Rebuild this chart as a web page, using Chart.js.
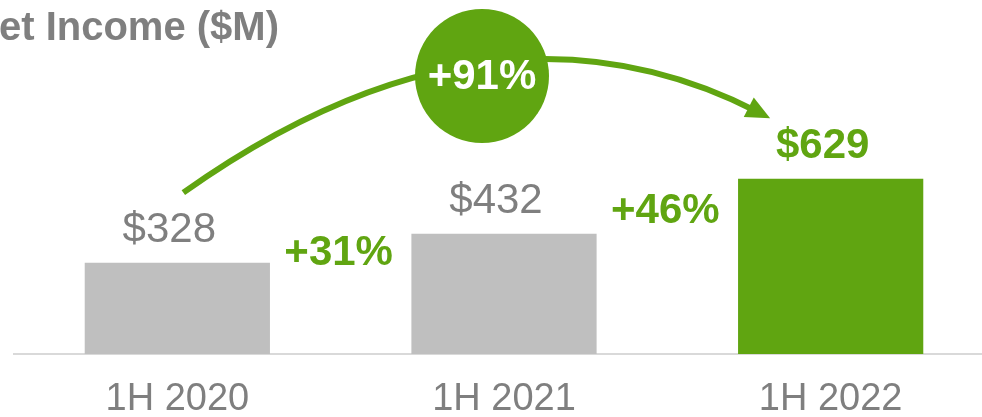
<!DOCTYPE html>
<html>
<head>
<meta charset="utf-8">
<script src="https://cdn.jsdelivr.net/npm/chart.js@4/dist/chart.umd.min.js"></script>
<style>
  html, body { margin: 0; padding: 0; background: #fff; overflow: hidden; }
  #wrap { width: 1000px; height: 438px; position: relative; }
</style>
</head>
<body>
<div id="wrap"><canvas id="incomeChart"></canvas></div>
<script>
const categories = ['1H 2020', '1H 2021', '1H 2022'];
const netIncome = [328, 432, 629];
const stepGrowth = ['+31%', '+46%'];
const totalGrowth = '+91%';
const chartTitle = 'Net Income ($M)';

const GREEN = '#60a511';
const GREY_BAR = '#bfbfbf';
const GREY_TEXT = '#7f7f7f';
const FONT = '"Liberation Sans", Arial, sans-serif';

// labels, arrows and the growth bubble
const annotations = {
    id: 'annotations',
    afterDraw(chart) {
        const ctx = chart.ctx;
        const xs = chart.scales.x, ys = chart.scales.y;
        const px = netIncome.map((v, i) => xs.getPixelForValue(i));
        const py = netIncome.map(v => ys.getPixelForValue(v));
        ctx.save();
        ctx.textAlign = 'center';
        ctx.textBaseline = 'middle';

        // title (runs off the left edge like the slide crop)
        ctx.font = 'bold 40px ' + FONT;
        ctx.fillStyle = GREY_TEXT;
        ctx.textAlign = 'right';
        ctx.fillText(chartTitle, 279, 29);
        ctx.textAlign = 'center';

        // value labels, sitting a little left of the bar centre
        netIncome.forEach((v, i) => {
            const last = i === netIncome.length - 1;
            ctx.font = (last ? 'bold ' : '') + '42px ' + FONT;
            ctx.fillStyle = last ? GREEN : GREY_TEXT;
            ctx.fillText('$' + v, px[i] - 8, py[i] - 32);
        });

        // step growth between bars
        ctx.font = 'bold 42px ' + FONT;
        ctx.fillStyle = GREEN;
        stepGrowth.forEach((t, i) => {
            ctx.fillText(t, (px[i] + px[i + 1]) / 2 - 2, (py[i] + py[i + 1]) / 2 + 5);
        });

        // curved arrow
        const p0 = { x: px[0] + 6, y: py[0] - 70 };
        const p2 = { x: px[2] - 73, y: py[2] - 67 };
        const c = { x: (px[0] + px[2]) / 2 - 14, y: -25 };
        ctx.strokeStyle = GREEN;
        ctx.lineWidth = 6;
        ctx.beginPath();
        ctx.moveTo(p0.x, p0.y);
        ctx.quadraticCurveTo(c.x, c.y, p2.x, p2.y);
        ctx.stroke();
        const ang = Math.atan2(p2.y - c.y, p2.x - c.x);
        const len = 24, half = 11;
        const tip = { x: p2.x + Math.cos(ang) * 14, y: p2.y + Math.sin(ang) * 14 };
        const bx = tip.x - Math.cos(ang) * len, by = tip.y - Math.sin(ang) * len;
        ctx.fillStyle = GREEN;
        ctx.beginPath();
        ctx.moveTo(tip.x, tip.y);
        ctx.lineTo(bx + Math.sin(ang) * half, by - Math.cos(ang) * half);
        ctx.lineTo(bx - Math.sin(ang) * half, by + Math.cos(ang) * half);
        ctx.closePath();
        ctx.fill();

        // bubble
        const cx = (px[0] + px[2]) / 2 - 22, cy = 76;
        ctx.beginPath();
        ctx.arc(cx, cy, 67, 0, Math.PI * 2);
        ctx.fill();
        ctx.fillStyle = '#ffffff';
        ctx.font = 'bold 42px ' + FONT;
        ctx.fillText(totalGrowth, cx, cy + 1);

        ctx.restore();
    }
};

new Chart(document.getElementById('incomeChart').getContext('2d'), {
    type: 'bar',
    data: {
        labels: categories,
        datasets: [{
            label: 'Net Income ($M)',
            data: netIncome,
            backgroundColor: [GREY_BAR, GREY_BAR, GREEN],
            barPercentage: 0.567,
            categoryPercentage: 1
        }]
    },
    options: {
        responsive: true,
        maintainAspectRatio: false,
        animation: false,
        layout: { padding: { left: 14, right: 6, top: 0, bottom: 0 } },
        plugins: { legend: { display: false }, tooltip: { enabled: false } },
        scales: {
            x: {
                grid: { display: false },
                border: { display: true, color: '#d9d9d9', width: 2 },
                ticks: {
                    color: GREY_TEXT,
                    padding: 19,
                    font: { family: FONT, size: 38, lineHeight: 1 }
                }
            },
            y: {
                display: false,
                min: 0,
                max: 1271
            }
        }
    },
    plugins: [annotations]
});
</script>
</body>
</html>
